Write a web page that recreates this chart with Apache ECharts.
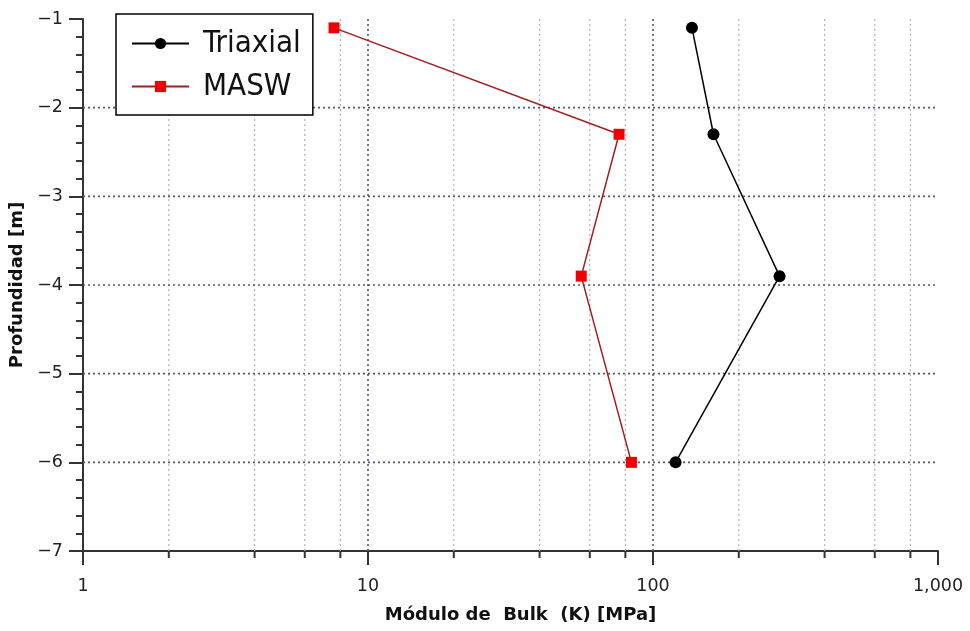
<!DOCTYPE html>
<html>
<head>
<meta charset="utf-8">
<script src="https://cdn.jsdelivr.net/npm/echarts@6/dist/echarts.min.js"></script>
<style>
  html, body { margin: 0; padding: 0; background: #fff; }
  #chart { width: 970px; height: 631px; }
</style>
</head>
<body>
<div id="chart"></div>
<script>
// depth [m]
const depth = [-1.1, -2.3, -3.9, -6.0];
// bulk modulus K [MPa]
const triaxial = [137, 163, 278, 120];
const masw = [7.6, 76, 56, 84];

// log axis minor grid positions and depth grid lines
const minorX = [2, 4, 6, 8, 20, 40, 60, 80, 200, 400, 600, 800];
const decadeX = [10, 100];
const gridY = [-2, -3, -4, -5, -6];

const FONT = '"DejaVu Sans", sans-serif';
const LEGEND_FONT = '"DejaVu Sans Condensed", "DejaVu Sans", sans-serif';
const Y_MIN = -7, Y_MAX = -1;

const chart = echarts.init(document.getElementById('chart'));

function vLines(kind) {
  return function (params, api) {
    const v = api.value(0);
    const top = api.coord([v, Y_MAX]);
    const bot = api.coord([v, Y_MIN]);
    const kids = [{
      type: 'line',
      shape: { x1: top[0], y1: top[1], x2: bot[0], y2: bot[1] },
      style: {
        stroke: kind === 'minor' ? '#b4b4b4' : '#55557a',
        lineWidth: kind === 'minor' ? 1.2 : 1.6,
        lineDash: [2, 3]
      }
    }];
    if (kind === 'minor') {
      kids.push({
        type: 'line',
        shape: { x1: bot[0], y1: bot[1], x2: bot[0], y2: bot[1] + 7 },
        style: { stroke: '#333', lineWidth: 2 }
      });
    }
    return { type: 'group', children: kids };
  };
}

chart.setOption({
  animation: false,
  grid: { left: 83, right: 32, top: 19, bottom: 80 },
  legend: {
    data: ['Triaxial', 'MASW'],
    orient: 'vertical',
    left: 116,
    top: 14,
    padding: [14, 12, 13, 15],
    itemWidth: 57,
    itemHeight: 14,
    itemGap: 12,
    borderColor: '#000',
    borderWidth: 1.5,
    backgroundColor: '#fff',
    textStyle: {
      fontFamily: LEGEND_FONT,
      fontSize: 31,
      color: '#111',
      lineHeight: 30,
      padding: [0, 0, 0, 9]
    }
  },
  xAxis: {
    type: 'log',
    logBase: 10,
    min: 1,
    max: 1000,
    name: 'Módulo de  Bulk  (K) [MPa]',
    nameLocation: 'middle',
    nameGap: 55,
    nameTextStyle: { fontFamily: FONT, fontSize: 18, fontWeight: 'bold', color: '#111', padding: [0, 0, 0, 20] },
    axisLine: { lineStyle: { color: '#333', width: 2 } },
    axisTick: { length: 14, lineStyle: { color: '#333', width: 2 } },
    axisLabel: {
      margin: 26,
      fontFamily: FONT,
      fontSize: 17.5,
      color: '#222',
      formatter: v => Math.round(v).toLocaleString('en-US')
    },
    splitLine: { show: false },
    minorTick: { show: false }
  },
  yAxis: {
    type: 'value',
    min: Y_MIN,
    max: Y_MAX,
    interval: 1,
    name: 'Profundidad [m]',
    nameLocation: 'middle',
    nameGap: 51,
    nameTextStyle: { fontFamily: FONT, fontSize: 18, fontWeight: 'bold', color: '#111' },
    axisLine: { show: true, lineStyle: { color: '#333', width: 2 } },
    axisTick: { show: true, length: 14, lineStyle: { color: '#333', width: 2 } },
    minorTick: { show: true, splitNumber: 5, length: 7, lineStyle: { color: '#333', width: 2 } },
    axisLabel: {
      margin: 20,
      fontFamily: FONT,
      fontSize: 17.5,
      color: '#222',
      formatter: v => String(v).replace('-', '\u2212')
    },
    splitLine: { show: false }
  },
  series: [
    {
      type: 'custom',
      name: 'minorX',
      silent: true,
      clip: false,
      z: 1,
      data: minorX.map(v => [v, Y_MIN]),
      renderItem: vLines('minor')
    },
    {
      type: 'custom',
      name: 'decadeX',
      silent: true,
      z: 1,
      data: decadeX.map(v => [v, Y_MIN]),
      renderItem: vLines('major')
    },
    {
      type: 'custom',
      name: 'gridY',
      silent: true,
      z: 1,
      data: gridY.map(v => [1, v]),
      renderItem: function (params, api) {
        const y = api.value(1);
        const a = api.coord([1, y]);
        const b = api.coord([1000, y]);
        return {
          type: 'line',
          shape: { x1: a[0], y1: a[1], x2: b[0] - 3, y2: b[1] },
          style: { stroke: '#55557a', lineWidth: 1.6, lineDash: [2, 3] }
        };
      }
    },
    {
      name: 'Triaxial',
      type: 'line',
      z: 3,
      data: triaxial.map((k, i) => [k, depth[i]]),
      symbol: 'circle',
      symbolSize: 12,
      lineStyle: { color: '#000', width: 1.5 },
      itemStyle: { color: '#000' }
    },
    {
      name: 'MASW',
      type: 'line',
      z: 3,
      data: masw.map((k, i) => [k, depth[i]]),
      symbol: 'rect',
      symbolSize: 11,
      lineStyle: { color: '#a51c1c', width: 1.5 },
      itemStyle: { color: '#f00000' }
    }
  ]
});
</script>
</body>
</html>
